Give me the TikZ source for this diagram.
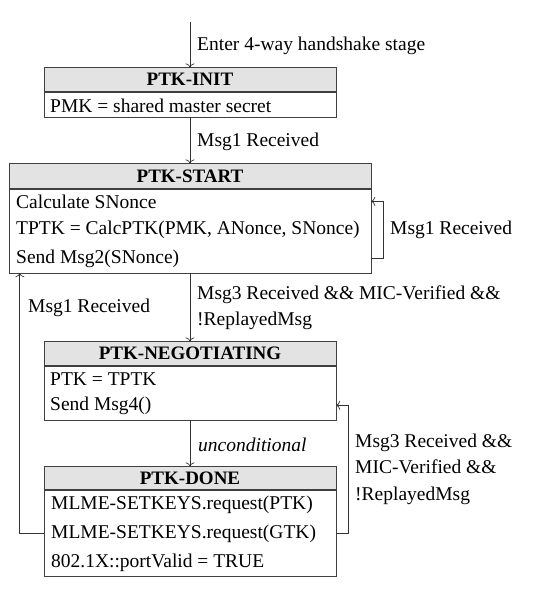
\documentclass[tikz,border=0pt]{standalone}
\usepackage{fontspec}
\setmainfont{Liberation Serif}
\usetikzlibrary{positioning,arrows.meta}

\begin{document}
\begin{tikzpicture}[x=1pt, y=-1pt,
        hd/.style = {draw=black!75, fill=black!11, minimum height=24pt, inner sep=0pt, font=\fontsize{19}{23}\selectfont\bfseries},
        bd/.style = {draw=black!75, inner sep=0pt},
        ln/.style = {anchor=base west, inner sep=0pt, font=\fontsize{19.5}{24}\selectfont},
        ar/.style = {-{To[length=4pt, width=9pt]}, black!80, line width=0.7pt},
        ]
        \useasboundingbox (0,0) rectangle (551,595);
        % states
        \node[bd, minimum width=292pt, minimum height=25pt] (ib) at (190,104.5) {};
        \node[hd, minimum width=292pt, above=0pt of ib] (ih) {PTK-INIT};
        \node[ln] (i1) at (50,112) {PMK = shared master secret};

        \node[bd, minimum width=362pt, minimum height=84pt] (sb) at (190,231) {};
        \node[hd, minimum width=362pt, minimum height=25pt, above=0pt of sb] (sh) {PTK-START};
        \node[ln] (s1) at (16,208) {Calculate SNonce};
        \node[ln] (s2) at (16,234) {TPTK = CalcPTK(PMK, ANonce, SNonce)};
        \node[ln] (s3) at (16,263) {Send Msg2(SNonce)};

        \node[bd, minimum width=292pt, minimum height=54pt] (nb) at (190,393) {};
        \node[hd, minimum width=292pt, above=0pt of nb] (nh) {PTK-NEGOTIATING};
        \node[ln] (n1) at (50,385) {PTK = TPTK};
        \node[ln] (n2) at (50,410) {Send Msg4()};

        \node[bd, minimum width=292pt, minimum height=86pt] (db) at (190,533) {};
        \node[hd, minimum width=292pt, minimum height=23pt, above=0pt of db] (dh) {PTK-DONE};
        \node[ln] (d1) at (51,509) {MLME-SETKEYS.request(PTK)};
        \node[ln] (d2) at (51,538) {MLME-SETKEYS.request(GTK)};
        \node[ln] (d3) at (51,567) {802.1X::portValid = TRUE};

        % transitions
        \coordinate (e) at (190,22);
        \draw[ar] (e) -- (ih);
        \draw[ar] (ib) -- (sh);
        \draw[ar] (sb) -- (nh);
        \draw[ar] (nb) -- (dh);
        \draw[ar] (s3 -| sb.east) -- ++(12,0) |- (s1 -| sb.east);
        \draw[ar] (d2 -| db.east) -- ++(12,0) |- (n2 -| nb.east);
        \draw[ar] (d2 -| db.west) -| ([xshift=11pt]sb.south west);

        \node[ln] (t0) at (197,50) {Enter 4-way handshake stage};
        \node[ln] (t1) at (197,146) {Msg1 Received};
        \node[ln] (t2) at (390,234) {Msg1 Received};
        \node[ln] (t3) at (197,299) {Msg3 Received \&\& MIC-Verified \&\&};
        \node[ln] (t3b) at (197,325) {!ReplayedMsg};
        \node[ln] (t4) at (28,312) {Msg1 Received};
        \node[ln] (t5) at (198,451) {\itshape unconditional};
        \node[ln] (t6) at (355,447) {Msg3 Received \&\&};
        \node[ln] (t6b) at (355,473) {MIC-Verified \&\&};
        \node[ln] (t6c) at (355,500) {!ReplayedMsg};
\end{tikzpicture}
\end{document}
